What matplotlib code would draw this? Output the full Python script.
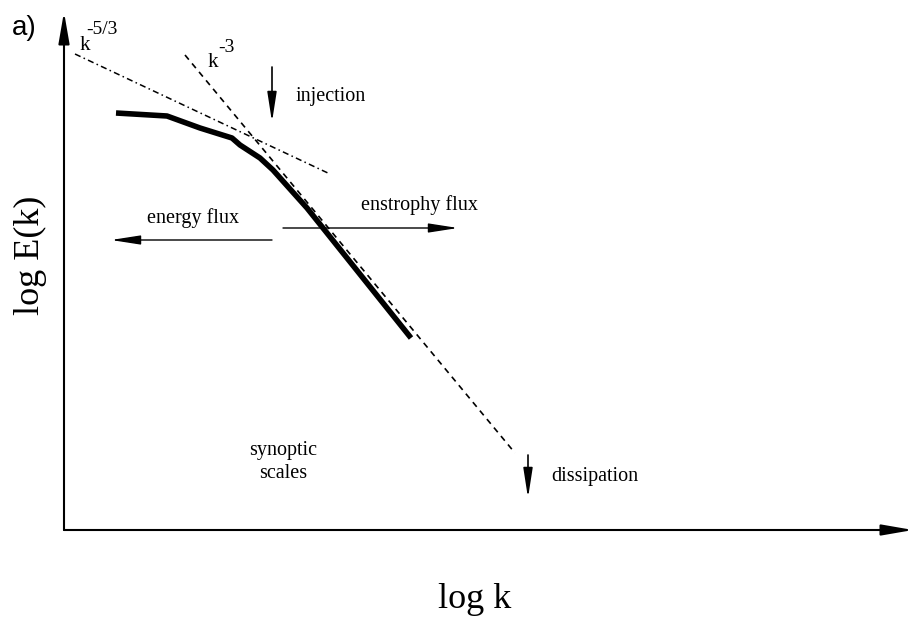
import numpy as np
import matplotlib.pyplot as plt

# schematic units: origin of the axes at (0, 0), 1 unit = 100 px
spectrum_k = [0.52, 1.03, 1.36, 1.68, 1.76, 1.96, 2.09, 2.43, 3.47]
spectrum_E = [4.17, 4.14, 4.02, 3.92, 3.85, 3.72, 3.60, 3.22, 1.92]

kolmo_k = [0.11, 2.66]          # k^-5/3 line (dash-dot)
kolmo_E = [4.76, 3.56]
kraich_k = [1.21, 4.51]         # k^-3 line (dashed)
kraich_E = [4.75, 0.77]

serif = 'Liberation Serif'

fig = plt.figure(figsize=(9.13, 6.2), dpi=100)
ax = fig.add_axes([0, 0, 1, 1])
ax.set_xlim(-0.64, 8.49)
ax.set_ylim(-0.90, 5.30)
ax.axis('off')


def arrow(x0, y0, x1, y1, lw=1.0, hl=1.6, hw=0.35):
    ax.annotate('', xy=(x1, y1), xytext=(x0, y0),
                arrowprops=dict(arrowstyle='-|>,head_length=%g,head_width=%g' % (hl, hw),
                                color='black', lw=lw, shrinkA=0, shrinkB=0,
                                mutation_scale=10))


# axes
arrow(0, 0, 0, 5.18, lw=1.5, hl=1.9, hw=0.33)
arrow(0, 0, 8.49, 0, lw=1.5, hl=1.9, hw=0.33)

# spectrum and power laws
ax.plot(spectrum_k, spectrum_E, color='black', lw=4, solid_joinstyle='round',
        solid_capstyle='butt')
ax.plot(kolmo_k, kolmo_E, color='black', lw=1.1, linestyle=(0, (4, 2.2, 1, 2.2)))
ax.plot(kraich_k, kraich_E, color='black', lw=1.2, linestyle=(0, (3.6, 3)))

ax.text(0.16, 4.80, 'k', family=serif, fontsize=15, va='baseline')
ax.text(0.22, 4.955, '-5/3', family=serif, fontsize=14, va='baseline')
ax.text(1.44, 4.63, 'k', family=serif, fontsize=15, va='baseline')
ax.text(1.545, 4.775, '-3', family=serif, fontsize=14, va='baseline')

# injection / dissipation
arrow(2.08, 4.63, 2.08, 4.08, lw=1.2, hl=1.8, hw=0.28)
ax.text(2.32, 4.34, 'injection', family=serif, fontsize=14.5, va='center')
arrow(4.64, 0.75, 4.64, 0.32, lw=1.2, hl=1.8, hw=0.28)
ax.text(4.87, 0.53, 'dissipation', family=serif, fontsize=14.5, va='center')

# fluxes
arrow(2.08, 2.90, 0.47, 2.90, lw=1.0, hl=1.8, hw=0.28)
ax.text(1.29, 3.12, 'energy flux', family=serif, fontsize=14.5, ha='center', va='center')
arrow(2.19, 3.02, 3.94, 3.02, lw=1.0, hl=1.8, hw=0.28)
ax.text(3.55, 3.25, 'enstrophy flux', family=serif, fontsize=14.5, ha='center', va='center')

ax.text(2.19, 0.68, 'synoptic\nscales', family=serif, fontsize=14.5, ha='center', va='center',
        linespacing=1.35)

# labels
ax.text(-0.34, 2.75, 'log E(k)', family=serif, fontsize=26, rotation=90, ha='center', va='center')
ax.text(4.11, -0.70, 'log k', family=serif, fontsize=26, ha='center', va='center')
ax.text(-0.52, 5.02, 'a)', family='Liberation Sans', fontsize=20, va='center')

fig.savefig('out.png', dpi=100)
